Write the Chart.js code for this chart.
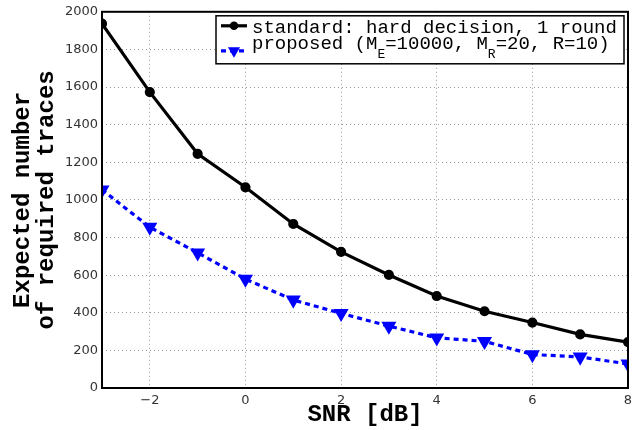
<!DOCTYPE html>
<html>
<head>
<meta charset="utf-8">
<script src="https://cdn.jsdelivr.net/npm/chart.js@4"></script>
<style>
  body { margin: 0; background: #fff; }
  #chart { display: block; }
</style>
</head>
<body>
<canvas id="chart" width="639" height="430"></canvas>
<script>
// values
var snr = [-3, -2, -1, 0, 1, 2, 3, 4, 5, 6, 7, 8];
var standard = [1937, 1573, 1245, 1067, 872, 724, 601, 489, 408, 348, 285, 244];
var proposed = [1054, 855, 719, 579, 468, 397, 329, 267, 248, 178, 165, 128];

var xTicks = [-2, 0, 2, 4, 6, 8];
var yTicks = [0, 200, 400, 600, 800, 1000, 1200, 1400, 1600, 1800, 2000];

var labelStandard = 'standard: hard decision, 1 round';
var labelProposed = 'proposed (M_E=10000, M_R=20, R=10)';

function points(xs, ys) {
  return xs.map(function (x, i) { return {x: x, y: ys[i]}; });
}

// box around the plot area (MATLAB style)
var frameBox = {
  id: 'frameBox',
  afterDraw: function (chart) {
    var a = chart.chartArea, ctx = chart.ctx;
    ctx.save();
    ctx.strokeStyle = '#000';
    ctx.lineWidth = 2;
    ctx.strokeRect(a.left, a.top, a.right - a.left, a.bottom - a.top);
    ctx.restore();
  }
};

// legend in a box, with subscripts written as _X in the labels
var legendBox = {
  id: 'legendBox',
  afterDraw: function (chart) {
    var ctx = chart.ctx, a = chart.chartArea;
    var x0 = a.left + 114, y0 = a.top + 4, w = a.right - 4 - x0, h = 48;
    ctx.save();
    ctx.fillStyle = '#fff';
    ctx.fillRect(x0, y0, w, h);
    ctx.strokeStyle = '#000';
    ctx.lineWidth = 1.5;
    ctx.strokeRect(x0, y0, w, h);

    var rows = [{line: y0 + 10, text: y0 + 12}, {line: y0 + 35, text: y0 + 28}];
    chart.data.datasets.forEach(function (ds, i) {
      var r = rows[i];
      ctx.save();
      ctx.strokeStyle = ds.borderColor;
      ctx.lineWidth = ds.borderWidth;
      ctx.setLineDash(ds.borderDash || []);
      ctx.beginPath();
      ctx.moveTo(x0 + 5, r.line);
      ctx.lineTo(x0 + 31, r.line);
      ctx.stroke();
      ctx.restore();
      ctx.fillStyle = ds.pointBackgroundColor;
      ctx.strokeStyle = ds.pointBorderColor;
      Chart.helpers.drawPoint(ctx, {
        pointStyle: ds.pointStyle, radius: ds.pointRadius,
        rotation: ds.pointRotation || 0, borderWidth: 1
      }, x0 + 18, r.line);

      // text with subscripts
      var parts = ds.label.split(/_(\w)/);
      var tx = x0 + 36;
      ctx.fillStyle = '#000';
      ctx.textBaseline = 'middle';
      for (var k = 0; k < parts.length; k++) {
        if (k % 2 === 1) {
          ctx.font = '13px "Liberation Mono"';
          ctx.fillText(parts[k], tx, r.text + 11);
        } else {
          ctx.font = '19px "Liberation Mono"';
          ctx.fillText(parts[k], tx, r.text);
        }
        tx += ctx.measureText(parts[k]).width;
      }
    });
    ctx.restore();
  }
};

var ctx = document.getElementById('chart').getContext('2d');
var chart = new Chart(ctx, {
  type: 'line',
  data: {
    datasets: [{
      label: labelStandard,
      data: points(snr, standard),
      borderColor: '#000',
      borderWidth: 3.2,
      pointStyle: 'circle',
      pointRadius: 3.5,
      pointBackgroundColor: '#000',
      pointBorderColor: '#000',
      tension: 0
    }, {
      label: labelProposed,
      data: points(snr, proposed),
      borderColor: '#0000ff',
      borderWidth: 3.2,
      borderDash: [5, 4],
      pointStyle: 'triangle',
      pointRotation: 180,
      pointRadius: 5.5,
      pointBackgroundColor: '#0000ff',
      pointBorderColor: '#0000ff',
      tension: 0
    }]
  },
  options: {
    responsive: false,
    animation: false,
    devicePixelRatio: 1,
    layout: { padding: { left: 0, right: 11, top: 9, bottom: 0 } },
    plugins: {
      legend: { display: false },
      tooltip: { enabled: false }
    },
    scales: {
      x: {
        type: 'linear',
        min: -3,
        max: 8,
        afterBuildTicks: function (s) { s.ticks = xTicks.map(function (v) { return {value: v}; }); },
        afterFit: function (s) { s.height = 42; },
        ticks: {
          padding: 5,
          color: '#333',
          font: { family: 'DejaVu Sans', size: 13 },
          callback: function (v) { return String(v).replace('-', '\u2212'); }
        },
        grid: { color: '#999', lineWidth: 1, drawTicks: false },
        border: { display: false, dash: [1, 3] },
        title: {
          display: true,
          text: 'SNR [dB]',
          color: '#000',
          font: { family: 'Liberation Mono', size: 24, weight: 'bold', lineHeight: 1.04 },
          padding: { top: 0, bottom: 3 }
        }
      },
      y: {
        min: 0,
        max: 2000,
        afterBuildTicks: function (s) { s.ticks = yTicks.map(function (v) { return {value: v}; }); },
        afterFit: function (s) { s.width = 102; },
        ticks: {
          padding: 4,
          color: '#333',
          font: { family: 'DejaVu Sans', size: 13 },
          callback: function (v) { return String(v); }
        },
        grid: { color: '#999', lineWidth: 1, drawTicks: false },
        border: { display: false, dash: [1, 3] },
        title: {
          display: true,
          text: ['Expected number', 'of required traces'],
          color: '#000',
          font: { family: 'Liberation Mono', size: 24, weight: 'bold', lineHeight: 1.04 },
          padding: { top: 10, bottom: 0 }
        }
      }
    }
  },
  plugins: [frameBox, legendBox]
});
</script>
</body>
</html>
